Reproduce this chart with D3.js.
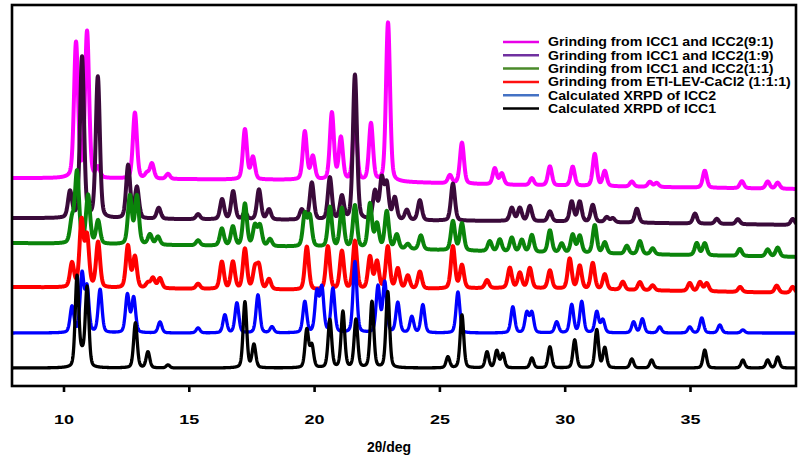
<!DOCTYPE html>
<html><head><meta charset="utf-8">
<script src="https://cdn.jsdelivr.net/npm/d3@7/dist/d3.min.js"></script>
<style>body{margin:0;background:#fff}svg{display:block}</style>
</head><body>
<svg id="chart" width="798" height="461"></svg>
<script>
// ---- data ----
const xTicks = [10, 15, 20, 25, 30, 35];
const xLabel = "2θ/deg";
const seriesNames = [
  "Grinding from ICC1 and ICC2(9:1)",
  "Grinding from ICC1 and ICC2(1:9)",
  "Grinding from ICC1 and ICC2(1:1)",
  "Grinding from ETI-LEV-CaCl2 (1:1:1)",
  "Calculated XRPD of ICC2",
  "Calculated XRPD of ICC1"
];
// peak lists: [2θ, height above baseline]
const peaks91 = [[10.5,135],[10.94,146],[11.38,10],[12.85,66],[13.33,5],[13.53,15],[14.17,5],[17.24,50],[17.56,22],[19.63,48],[19.95,23],[20.71,67],[21.07,42],[21.63,65],[22.27,57],[22.95,159],[25.42,8],[25.9,41],[27.21,16],[27.49,11],[28.69,7],[29.41,19],[30.32,19],[31.2,32],[31.6,15],[32.68,5],[33.4,5],[33.67,4],[35.59,17],[37.07,7],[38.1,7],[38.5,6]];
const peaks19 = [[10.26,26],[10.74,161],[11.37,141],[12.58,53],[12.93,31],[13.8,11],[15.37,5],[16.33,20],[16.77,28],[17.24,7],[17.8,30],[18.2,10],[19.51,10],[19.91,37],[20.63,42],[21.11,23],[21.63,145],[22.43,28],[22.7,40],[22.9,35],[23.22,22],[23.7,10],[24.22,20],[25.54,37],[27.89,13],[28.21,13],[28.61,15],[29.41,10],[30.28,20],[30.6,20],[31.12,17],[31.68,5],[31.92,4],[32.88,14],[35.2,10],[36.07,5],[36.91,5],[39.1,6]];
const peaks11 = [[10.34,23],[10.54,71],[10.98,48],[11.38,23],[12.65,48],[12.93,48],[13.45,10],[13.77,8],[15.37,5],[16.32,17],[16.76,19],[17.24,42],[17.64,20],[17.84,20],[18.24,7],[19.63,32],[19.83,30],[20.63,40],[21.11,39],[21.63,42],[22.23,44],[22.51,24],[22.9,37],[23.3,14],[23.74,5],[24.26,14],[25.54,29],[25.9,27],[27.01,10],[27.41,12],[27.89,14],[28.29,12],[28.69,17],[29.41,22],[29.88,9],[30.32,18],[30.6,17],[31.2,28],[31.6,11],[32.48,8],[33.0,13],[33.51,6],[35.27,12],[35.59,12],[36.99,7],[38.1,7],[38.5,9]];
const peaksEti = [[10.34,24],[10.72,66],[10.94,50],[11.38,45],[12.57,42],[12.85,31],[13.37,5],[13.57,10],[13.85,10],[15.37,5],[16.32,27],[16.76,27],[17.24,40],[17.64,20],[17.8,22],[18.2,10],[19.71,43],[20.55,43],[21.11,38],[21.63,48],[22.23,32],[22.51,27],[22.94,42],[23.34,20],[23.74,13],[24.22,17],[25.54,42],[25.9,23],[26.9,8],[27.81,20],[28.21,15],[28.61,20],[29.41,18],[30.2,30],[30.6,23],[31.12,26],[31.6,15],[32.32,8],[33.0,8],[33.51,5],[34.99,8],[35.4,9],[35.67,8],[37.0,5],[38.46,7],[39.1,6]];
const peaksICC2 = [[10.34,26],[10.74,58],[10.94,44],[11.46,43],[12.55,38],[12.8,35],[13.85,11],[15.37,5],[16.44,18],[16.92,30],[17.76,38],[18.32,6],[19.63,31],[20.11,40],[20.31,44],[20.75,44],[21.63,71],[22.55,46],[22.82,50],[23.34,30],[23.9,16],[24.34,28],[25.74,41],[27.93,26],[28.49,20],[28.69,20],[29.68,11],[30.28,28],[30.68,31],[31.28,21],[31.52,13],[32.75,11],[33.1,14],[33.79,6],[34.99,6],[35.47,15],[36.19,8],[37.11,3]];
const peaksICC1 = [[10.54,91],[10.74,12],[10.94,80],[12.87,45],[13.37,16],[14.17,3],[17.24,66],[17.6,23],[19.71,38],[19.91,22],[20.63,48],[21.15,56],[21.67,48],[22.31,66],[22.94,76],[25.34,11],[25.9,53],[26.9,16],[27.29,17],[27.53,14],[28.69,10],[29.41,21],[30.4,28],[31.28,38],[31.6,20],[32.68,9],[33.47,8],[35.59,18],[37.11,8],[38.1,8],[38.5,11]];
// baseline anchor levels (stack offsets): [2θ, level]
const base91   = [[7.9,208],[20,206],[28,201],[39.3,197]];
const base19   = [[7.9,168],[20,166],[28,165],[39.3,161]];
const base11   = [[7.9,143],[20,139],[28,134],[39.3,129]];
const baseEti  = [[7.9,99],[20,96],[28,98],[39.3,93]];
const baseICC2 = [[7.9,53],[39.3,53]];
const baseICC1 = [[7.9,18],[39.3,18]];

// ---- styles ----
const traceColors  = ["#ff00ff", "#3a0a3a", "#0b840b", "#ff0000", "#0000ff", "#000000"];
const legendColors = ["#e800e8", "#7030a0", "#4a8a2a", "#ff1010", "#4472c4", "#000000"];

const seriesPeaks = [peaks91, peaks19, peaks11, peaksEti, peaksICC2, peaksICC1];
const seriesBase  = [base91, base19, base11, baseEti, baseICC2, baseICC1];
const fwhm   = [0.19, 0.19, 0.19, 0.19, 0.18, 0.17];
const widths = [4, 4, 4, 4, 3.3, 3.3];

const svg = d3.select("#chart");
const L = 12, R = 796, T = 5, B = 386;
const x = d3.scaleLinear().domain([7.945, 39.23]).range([L, R]);
const y = d3.scaleLinear().domain([0, 381]).range([B, T]);

svg.append("defs").append("clipPath").attr("id","clip")
  .append("rect").attr("x", L).attr("y", T).attr("width", R-L).attr("height", B-T);

function profile(peaks, base, fw) {
  const hw = fw / 2, eta = 0.3, pts = [];
  const bl = d3.scaleLinear().domain(base.map(d => d[0])).range(base.map(d => d[1]));
  for (let t = 7.9; t <= 39.3; t += 0.01) {
    let v = bl(t);
    for (const [p, h] of peaks) {
      const u = (t - p) / hw;
      if (Math.abs(u) > 30) continue;
      v += h * (eta / (1 + u*u) + (1 - eta) * Math.exp(-Math.LN2 * u*u));
    }
    pts.push([t, v]);
  }
  return pts;
}

const line = d3.line().x(d => x(d[0])).y(d => y(d[1]));
const g = svg.append("g").attr("clip-path", "url(#clip)");
seriesPeaks.forEach((pk, i) => {
  g.append("path").datum(profile(pk, seriesBase[i], fwhm[i]))
    .attr("d", line).attr("fill", "none")
    .attr("stroke", traceColors[i]).attr("stroke-width", widths[i])
    .attr("stroke-linejoin", "round");
});

// frame
svg.append("rect").attr("x", L).attr("y", T).attr("width", R-L).attr("height", B-T)
  .attr("fill", "none").attr("stroke", "#000").attr("stroke-width", 2.6);

// x axis
const ax = svg.append("g").attr("transform", `translate(0,${B})`)
  .call(d3.axisBottom(x).tickValues(xTicks).tickSize(6).tickPadding(23).tickFormat(d3.format("d")));
ax.select(".domain").remove();
ax.selectAll("line").attr("stroke", "#000").attr("stroke-width", 2.6);
ax.selectAll("text").attr("fill", "#000")
  .style("font-family", "'Liberation Sans', Arial, sans-serif")
  .style("font-weight", "bold").style("font-size", "12px")
  .attr("transform", "scale(1.5,1)");

svg.append("text").attr("x", 389).attr("y", 452).attr("text-anchor", "middle")
  .style("font-family", "'Liberation Sans', Arial, sans-serif")
  .style("font-weight", "bold").style("font-size", "14px").text(xLabel);

// legend
const lg = svg.append("g");
seriesNames.forEach((name, i) => {
  const yy = 42 + i * 13.3;
  lg.append("line").attr("x1", 503).attr("x2", 539).attr("y1", yy).attr("y2", yy)
    .attr("stroke", legendColors[i]).attr("stroke-width", 2.5);
  lg.append("text").attr("transform", `translate(548,${yy + 4.3}) scale(1.18,1)`)
    .style("font-family", "'Liberation Sans', Arial, sans-serif")
    .style("font-weight", "bold").style("font-size", "12px").text(name);
});
</script>
</body></html>
